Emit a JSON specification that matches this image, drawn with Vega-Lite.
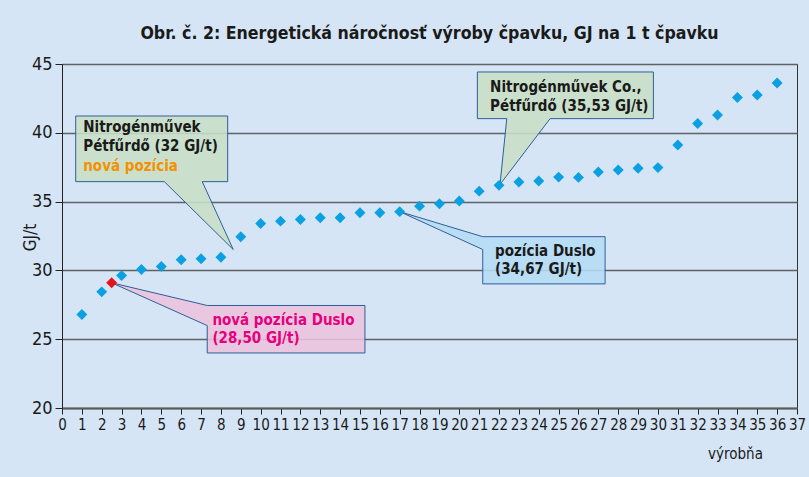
{
  "$schema": "https://vega.github.io/schema/vega-lite/v6.json",
  "width": 735,
  "height": 344,
  "autosize": {"type": "none"},
  "padding": {"left": 62, "top": 64, "right": 12, "bottom": 69},
  "background": "#d5e5f5",
  "config": {
    "view": {"stroke": "#333333", "strokeWidth": 1},
    "font": "DejaVu Sans Condensed, Roboto Condensed, Roboto, sans-serif"
  },
  "resolve": {"scale": {"color": "independent", "fill": "independent"}},
  "title": {
    "text": "Obr. č. 2: Energetická náročnosť výroby čpavku, GJ na 1 t čpavku",
    "font": "DejaVu Sans Condensed, Roboto Condensed, Roboto, sans-serif",
    "fontSize": 17.6,
    "fontWeight": "bold",
    "color": "#1a1a1a",
    "anchor": "middle",
    "offset": 12
  },
  "datasets": {
    "points": [
      {"vyrobna": 1, "gj": 26.79, "kind": "ostatné"},
      {"vyrobna": 2, "gj": 28.44, "kind": "ostatné"},
      {"vyrobna": 2.5, "gj": 29.1, "kind": "nová pozícia Duslo"},
      {"vyrobna": 3, "gj": 29.63, "kind": "ostatné"},
      {"vyrobna": 4, "gj": 30.07, "kind": "ostatné"},
      {"vyrobna": 5, "gj": 30.28, "kind": "ostatné"},
      {"vyrobna": 6, "gj": 30.77, "kind": "ostatné"},
      {"vyrobna": 7, "gj": 30.84, "kind": "ostatné"},
      {"vyrobna": 8, "gj": 30.96, "kind": "ostatné"},
      {"vyrobna": 9, "gj": 32.45, "kind": "ostatné"},
      {"vyrobna": 10, "gj": 33.41, "kind": "ostatné"},
      {"vyrobna": 11, "gj": 33.58, "kind": "ostatné"},
      {"vyrobna": 12, "gj": 33.7, "kind": "ostatné"},
      {"vyrobna": 13, "gj": 33.83, "kind": "ostatné"},
      {"vyrobna": 14, "gj": 33.83, "kind": "ostatné"},
      {"vyrobna": 15, "gj": 34.19, "kind": "ostatné"},
      {"vyrobna": 16, "gj": 34.19, "kind": "ostatné"},
      {"vyrobna": 17, "gj": 34.27, "kind": "ostatné"},
      {"vyrobna": 18, "gj": 34.67, "kind": "ostatné"},
      {"vyrobna": 19, "gj": 34.85, "kind": "ostatné"},
      {"vyrobna": 20, "gj": 35.04, "kind": "ostatné"},
      {"vyrobna": 21, "gj": 35.76, "kind": "ostatné"},
      {"vyrobna": 22, "gj": 36.18, "kind": "ostatné"},
      {"vyrobna": 23, "gj": 36.42, "kind": "ostatné"},
      {"vyrobna": 24, "gj": 36.49, "kind": "ostatné"},
      {"vyrobna": 25, "gj": 36.78, "kind": "ostatné"},
      {"vyrobna": 26, "gj": 36.76, "kind": "ostatné"},
      {"vyrobna": 27, "gj": 37.15, "kind": "ostatné"},
      {"vyrobna": 28, "gj": 37.29, "kind": "ostatné"},
      {"vyrobna": 29, "gj": 37.42, "kind": "ostatné"},
      {"vyrobna": 30, "gj": 37.47, "kind": "ostatné"},
      {"vyrobna": 31, "gj": 39.11, "kind": "ostatné"},
      {"vyrobna": 32, "gj": 40.67, "kind": "ostatné"},
      {"vyrobna": 33, "gj": 41.3, "kind": "ostatné"},
      {"vyrobna": 34, "gj": 42.56, "kind": "ostatné"},
      {"vyrobna": 35, "gj": 42.75, "kind": "ostatné"},
      {"vyrobna": 36, "gj": 43.62, "kind": "ostatné"}
    ],
    "callouts": [
      {"callout": "Pétfűrdő nová", "i": 1, "vyrobna": 0.69, "gj": 41.22},
      {"callout": "Pétfűrdő nová", "i": 2, "vyrobna": 8.34, "gj": 41.22},
      {"callout": "Pétfűrdő nová", "i": 3, "vyrobna": 8.34, "gj": 36.45},
      {"callout": "Pétfűrdő nová", "i": 4, "vyrobna": 7.06, "gj": 36.45},
      {"callout": "Pétfűrdő nová", "i": 5, "vyrobna": 8.62, "gj": 31.52},
      {"callout": "Pétfűrdő nová", "i": 6, "vyrobna": 5.15, "gj": 36.45},
      {"callout": "Pétfűrdő nová", "i": 7, "vyrobna": 0.69, "gj": 36.45},
      {"callout": "Pétfűrdő nová", "i": 8, "vyrobna": 0.69, "gj": 41.22},
      {"callout": "Pétfűrdő Co.", "i": 1, "vyrobna": 20.91, "gj": 44.42},
      {"callout": "Pétfűrdő Co.", "i": 2, "vyrobna": 29.77, "gj": 44.42},
      {"callout": "Pétfűrdő Co.", "i": 3, "vyrobna": 29.77, "gj": 41.03},
      {"callout": "Pétfűrdő Co.", "i": 4, "vyrobna": 24.57, "gj": 41.03},
      {"callout": "Pétfűrdő Co.", "i": 5, "vyrobna": 22.05, "gj": 36.25},
      {"callout": "Pétfűrdő Co.", "i": 6, "vyrobna": 22.39, "gj": 41.03},
      {"callout": "Pétfűrdő Co.", "i": 7, "vyrobna": 20.91, "gj": 41.03},
      {"callout": "Pétfűrdő Co.", "i": 8, "vyrobna": 20.91, "gj": 44.42},
      {"callout": "Duslo", "i": 1, "vyrobna": 21.18, "gj": 32.45},
      {"callout": "Duslo", "i": 2, "vyrobna": 27.34, "gj": 32.45},
      {"callout": "Duslo", "i": 3, "vyrobna": 27.34, "gj": 29.02},
      {"callout": "Duslo", "i": 4, "vyrobna": 21.18, "gj": 29.02},
      {"callout": "Duslo", "i": 5, "vyrobna": 21.18, "gj": 31.52},
      {"callout": "Duslo", "i": 6, "vyrobna": 17.0, "gj": 34.27},
      {"callout": "Duslo", "i": 7, "vyrobna": 21.18, "gj": 32.45},
      {"callout": "Duslo nová", "i": 1, "vyrobna": 7.31, "gj": 27.45},
      {"callout": "Duslo nová", "i": 2, "vyrobna": 15.25, "gj": 27.45},
      {"callout": "Duslo nová", "i": 3, "vyrobna": 15.25, "gj": 24.0},
      {"callout": "Duslo nová", "i": 4, "vyrobna": 7.31, "gj": 24.0},
      {"callout": "Duslo nová", "i": 5, "vyrobna": 7.31, "gj": 25.99},
      {"callout": "Duslo nová", "i": 6, "vyrobna": 2.5, "gj": 29.1},
      {"callout": "Duslo nová", "i": 7, "vyrobna": 7.31, "gj": 27.45}
    ],
    "labels": [
      {"vyrobna": 1.07, "gj": 40.06, "text": "Nitrogénművek", "tone": "čierna"},
      {"vyrobna": 1.07, "gj": 38.65, "text": "Pétfűrdő (32 GJ/t)", "tone": "čierna"},
      {"vyrobna": 1.07, "gj": 37.22, "text": "nová pozícia", "tone": "oranžová"},
      {"vyrobna": 21.55, "gj": 42.97, "text": "Nitrogénművek Co.,", "tone": "čierna"},
      {"vyrobna": 21.55, "gj": 41.59, "text": "Pétfűrdő (35,53 GJ/t)", "tone": "čierna"},
      {"vyrobna": 21.8, "gj": 31.08, "text": "pozícia Duslo", "tone": "čierna"},
      {"vyrobna": 21.8, "gj": 29.75, "text": "(34,67 GJ/t)", "tone": "čierna"},
      {"vyrobna": 7.57, "gj": 26.06, "text": "nová pozícia Duslo", "tone": "purpurová"},
      {"vyrobna": 7.57, "gj": 24.75, "text": "(28,50 GJ/t)", "tone": "purpurová"}
    ]
  },
  "encoding": {
    "x": {
      "field": "vyrobna",
      "type": "quantitative",
      "scale": {"domain": [0, 37], "nice": false, "zero": false},
      "axis": {
        "title": "výrobňa",
        "values": [0,1,2,3,4,5,6,7,8,9,10,11,12,13,14,15,16,17,18,19,20,21,22,23,24,25,26,27,28,29,30,31,32,33,34,35,36,37],
        "grid": false,
        "domainColor": "#5a5a5a",
        "domainWidth": 2,
        "tickColor": "#222222",
        "tickSize": 6,
        "labelFontSize": 15,
        "labelColor": "#1a1a1a",
        "labelOverlap": false,
        "labelFlush": false,
        "labelPadding": 3,
        "titleFontSize": 15,
        "titleFontWeight": "normal",
        "titleColor": "#1a1a1a",
        "titleX": 673,
        "titleY": 38,
        "titleAlign": "center"
      }
    },
    "y": {
      "field": "gj",
      "type": "quantitative",
      "scale": {"domain": [20, 45], "nice": false, "zero": false},
      "axis": {
        "title": "GJ/t",
        "values": [20, 25, 30, 35, 40, 45],
        "grid": true,
        "gridColor": "#5f6366",
        "gridWidth": 1.6,
        "domainColor": "#222222",
        "tickColor": "#222222",
        "tickSize": 7,
        "labelFontSize": 18,
        "labelColor": "#1a1a1a",
        "labelPadding": 3,
        "titleFontSize": 17,
        "titleFontWeight": "normal",
        "titleColor": "#1a1a1a",
        "titleAngle": 270,
        "titleAlign": "center",
        "titleBaseline": "middle",
        "titleX": -32,
        "titleY": 173
      }
    }
  },
  "layer": [
    {
      "data": {"name": "callouts"},
      "mark": {"type": "line", "stroke": "#2f5f98", "strokeWidth": 1, "fillOpacity": 0.88, "interpolate": "linear"},
      "encoding": {
        "order": {"field": "i", "type": "quantitative"},
        "detail": {"field": "callout"},
        "fill": {
          "field": "callout",
          "type": "nominal",
          "scale": {"domain": ["Pétfűrdő nová", "Pétfűrdő Co.", "Duslo", "Duslo nová"], "range": ["#c9dfc6", "#c9dfc6", "#b5dcf5", "#ecc3de"]},
          "legend": null
        }
      }
    },
    {
      "data": {"name": "points"},
      "mark": {"type": "point", "shape": "diamond", "filled": true, "size": 120, "opacity": 1},
      "encoding": {
        "color": {
          "field": "kind",
          "type": "nominal",
          "scale": {"domain": ["ostatné", "nová pozícia Duslo"], "range": ["#0ba0e2", "#e3141b"]},
          "legend": null
        }
      }
    },
    {
      "data": {"name": "labels"},
      "mark": {"type": "text", "align": "left", "baseline": "alphabetic", "fontSize": 15, "fontWeight": "bold"},
      "encoding": {
        "text": {"field": "text"},
        "color": {
          "field": "tone",
          "type": "nominal",
          "scale": {"domain": ["čierna", "oranžová", "purpurová"], "range": ["#1a1a1a", "#f39200", "#e5007e"]},
          "legend": null
        }
      }
    }
  ]
}
